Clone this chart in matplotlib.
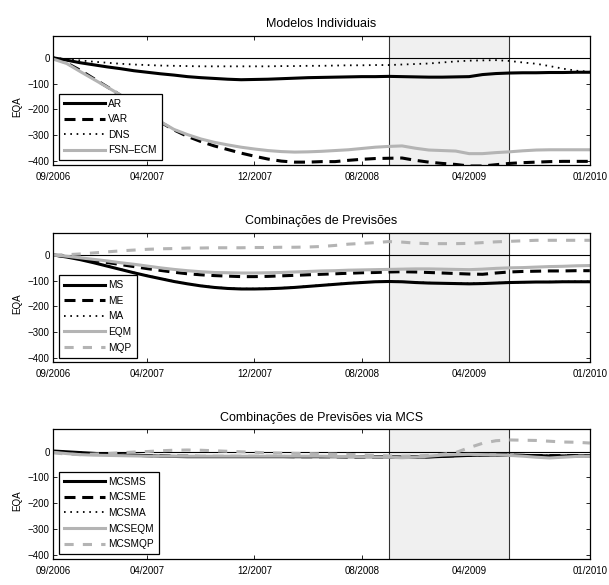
import numpy as np
import matplotlib
matplotlib.use("Agg")
import matplotlib.pyplot as plt

plt.rcParams['font.family'] = ['Liberation Sans', 'DejaVu Sans']

# meses desde 09/2006 ate 01/2010
meses = np.arange(41)
tick_meses = [0, 7, 15, 23, 31, 40]
tick_labels = ['09/2006', '04/2007', '12/2007', '08/2008', '04/2009', '01/2010']
recessao = (25, 34)  # 10/2008 a 07/2009

# Modelos Individuais
AR = [0, -9, -19, -27, -35, -42, -50, -56, -62, -67, -73, -77, -80, -83, -85, -84, -83, -81, -79, -77,
      -76, -75, -74, -73, -73, -72, -73, -74, -75, -75, -74, -73, -65, -61, -59, -58, -58, -57, -57, -56, -56]
VAR = [0, -20, -48, -80, -112, -145, -180, -215, -250, -280, -305, -325, -342, -356, -370, -382, -393, -401, -405, -405,
       -403, -403, -398, -394, -391, -390, -389, -398, -405, -410, -414, -420, -420, -415, -410, -407, -405, -403, -402, -402, -402]
DNS = [0, -5, -10, -15, -19, -23, -26, -28, -30, -31, -32, -33, -33, -33, -33, -33, -33, -32, -32, -31,
       -31, -30, -29, -29, -28, -28, -26, -24, -22, -18, -14, -11, -10, -9, -12, -18, -23, -32, -42, -50, -54]
FSN = [-5, -22, -53, -83, -113, -144, -175, -210, -248, -278, -298, -315, -328, -338, -347, -354, -360, -364, -366, -365,
       -363, -360, -357, -352, -347, -344, -342, -351, -358, -360, -362, -372, -372, -368, -365, -361, -358, -357, -357, -357, -357]

# Combinacoes de Previsoes
MS = [0, -8, -18, -30, -43, -56, -69, -81, -92, -103, -112, -120, -126, -130, -132, -132, -131, -129, -126, -122,
      -118, -114, -110, -107, -104, -103, -104, -107, -109, -110, -111, -112, -111, -109, -107, -106, -105, -105, -104, -104, -104]
ME = [0, -6, -13, -21, -29, -37, -45, -53, -60, -67, -73, -77, -80, -82, -84, -84, -83, -81, -79, -77,
      -75, -73, -71, -69, -68, -66, -65, -66, -68, -70, -72, -74, -75, -70, -66, -64, -63, -62, -62, -61, -61]
MA = [0, -7, -17, -29, -42, -55, -68, -80, -91, -102, -111, -119, -125, -129, -131, -131, -130, -128, -125, -121,
      -117, -113, -109, -106, -104, -103, -104, -106, -108, -109, -110, -111, -110, -108, -107, -106, -105, -104, -104, -103, -103]
EQM = [0, -5, -11, -17, -23, -30, -36, -43, -50, -56, -61, -65, -68, -69, -70, -70, -69, -68, -66, -64,
       -62, -61, -59, -58, -57, -56, -55, -54, -54, -55, -56, -57, -55, -52, -50, -49, -47, -45, -44, -42, -41]
MQP = [0, 1, 4, 8, 12, 16, 19, 22, 24, 25, 27, 27, 28, 28, 28, 29, 29, 30, 30, 31,
       33, 37, 42, 45, 48, 52, 50, 46, 44, 44, 44, 45, 48, 51, 53, 55, 57, 57, 57, 57, 57]

# Combinacoes de Previsoes via MCS
MCSMS = [2, -1, -4, -7, -10, -12, -14, -16, -18, -19, -20, -20, -20, -20, -20, -20, -20, -20, -20, -20,
         -20, -20, -20, -20, -20, -21, -22, -22, -21, -19, -17, -15, -14, -14, -14, -15, -16, -17, -17, -17, -16]
MCSME = [0, -3, -6, -9, -11, -13, -15, -16, -17, -18, -18, -19, -19, -19, -19, -19, -19, -19, -20, -20,
         -20, -20, -21, -21, -21, -22, -22, -21, -20, -18, -16, -14, -13, -13, -14, -15, -16, -16, -16, -16, -16]
MCSMA = [1, -2, -5, -8, -10, -12, -14, -16, -17, -18, -19, -19, -19, -19, -19, -19, -19, -19, -19, -19,
         -19, -19, -19, -20, -20, -21, -21, -21, -20, -18, -16, -14, -13, -13, -13, -14, -15, -16, -16, -16, -15]
MCSEQM = [-3, -8, -12, -14, -15, -16, -17, -18, -18, -18, -18, -18, -18, -18, -18, -18, -18, -18, -18, -18,
          -18, -19, -19, -20, -21, -22, -24, -22, -18, -14, -12, -11, -12, -13, -15, -18, -22, -25, -22, -19, -18]
MCSMQP = [-5, -10, -12, -10, -8, -5, -2, 0, 3, 5, 6, 5, 3, 1, -1, -3, -5, -6, -7, -8,
          -9, -10, -11, -13, -15, -17, -18, -17, -15, -11, -4, 15, 32, 42, 45, 44, 43, 40, 37, 36, 33]

cinza = '#b4b4b4'
estilos = [
    dict(color='k', lw=2.2, ls='-'),
    dict(color='k', lw=2.2, ls=(0, (3.6, 2.2))),
    dict(color='k', lw=1.3, ls=(0, (0.9, 2.6))),
    dict(color=cinza, lw=2.2, ls='-'),
    dict(color=cinza, lw=2.2, ls=(0, (3.0, 3.0))),
]

paineis = [
    ('Modelos Individuais', [('AR', AR), ('VAR', VAR), ('DNS', DNS), ('FSN–ECM', FSN)], 0.718),
    ('Combinações de Previsões', [('MS', MS), ('ME', ME), ('MA', MA), ('EQM', EQM), ('MQP', MQP)], 0.381),
    ('Combinações de Previsões via MCS', [('MCSMS', MCSMS), ('MCSME', MCSME), ('MCSMA', MCSMA),
                                          ('MCSEQM', MCSEQM), ('MCSMQP', MCSMQP)], 0.045),
]

fig = plt.figure(figsize=(6.09, 5.85), dpi=100)

for titulo, series, base in paineis:
    ax = fig.add_axes([0.0875, base, 0.881, 0.221])

    # faixa da recessao
    ax.axvspan(recessao[0], recessao[1], color='#f0f0f0', lw=0, zorder=2.6)
    for r in recessao:
        ax.axvline(r, color='#333333', lw=0.8, zorder=2.7)
    ax.axhline(0, color='k', lw=0.8, zorder=2.7)

    for (nome, valores), est in zip(series, estilos):
        ax.plot(meses, valores, label=nome, zorder=3, **est)

    ax.set_xlim(0, 40)
    ax.set_ylim(-416, 86)
    ax.set_xticks(tick_meses)
    ax.set_xticklabels(tick_labels)
    ax.set_yticks([-400, -300, -200, -100, 0])
    ax.tick_params(direction='in', top=True, right=True, length=3, width=0.6, labelsize=7)
    ax.tick_params(axis='x', pad=5)
    ax.tick_params(axis='y', pad=2.5)
    for s in ax.spines.values():
        s.set_linewidth(0.9)
        s.set_zorder(4)

    ax.set_title(titulo, fontsize=9, pad=6)
    ax.set_ylabel('EQA', fontsize=7)
    ax.yaxis.set_label_coords(-0.057, 0.45)

    leg = ax.legend(loc='lower left', bbox_to_anchor=(0.011, 0.035), borderaxespad=0,
                    fontsize=7.3, handlelength=4.0, handletextpad=0.35, labelspacing=0.55,
                    borderpad=0.5, fancybox=False, framealpha=1, edgecolor='k')
    leg.get_frame().set_linewidth(0.9)
    leg.set_zorder(5)

plt.savefig('out.png', dpi=100)
plt.close()
